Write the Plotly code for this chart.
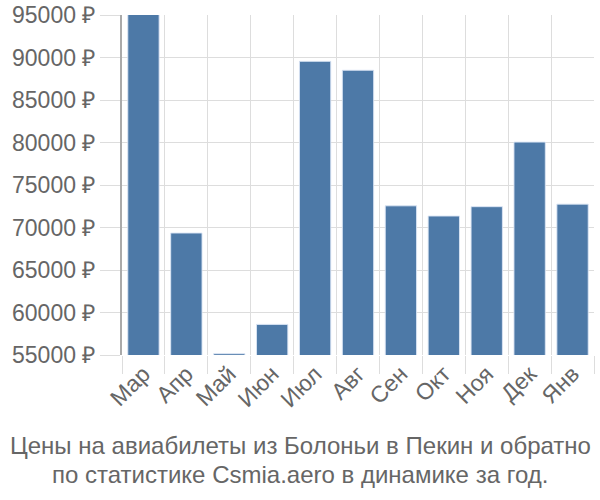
import plotly.graph_objects as go

months = ["Мар", "Апр", "Май", "Июн", "Июл", "Авг", "Сен", "Окт", "Ноя", "Дек", "Янв"]
prices = [97000, 69350, 55150, 58600, 89550, 88500, 72550, 71350, 72450, 80050, 72750]
y_ticks = [55000, 60000, 65000, 70000, 75000, 80000, 85000, 90000, 95000]
y_labels = [f"{v} ₽" for v in y_ticks]
title_lines = ["Цены на авиабилеты из Болоньи в Пекин и обратно",
               "по статистике Csmia.aero в динамике за год."]

fig = go.Figure(go.Bar(
    x=months, y=prices,
    marker=dict(color="#4d79a7", line=dict(color="rgba(220,230,245,0.9)", width=1)),
))

font = "Liberation Sans, Arial, sans-serif"
L, R, T, B = 122, 6, 15, 145
pw, ph = 600 - L - R, 500 - T - B
fig.update_layout(
    width=600, height=500,
    margin=dict(l=L, r=R, t=T, b=B, autoexpand=False),
    plot_bgcolor="white", paper_bgcolor="white",
    bargap=0.27,
    showlegend=False,
    font=dict(family=font, color="#666666", size=23),
)
for i, (line, ybase) in enumerate(zip(title_lines, [456, 485])):
    fig.add_annotation(
        text=line, x=(300 - L) / pw, y=(500 - B - ybase) / ph,
        xref="paper", yref="paper", xanchor="center", yanchor="bottom",
        yshift=-5, showarrow=False,
        font=dict(family=font, size=24, color="#666666"),
    )
fig.update_xaxes(
    automargin=False,
    tickson="boundaries", showgrid=True, gridcolor="#dddddd", gridwidth=1,
    ticks="outside", ticklen=18, tickcolor="#dddddd",
    tickangle=-45, tickfont=dict(size=23, color="#666666"),
    showline=False,
)
fig.update_yaxes(
    automargin=False,
    range=[55000, 95000], tickvals=y_ticks, ticktext=y_labels,
    showgrid=True, gridcolor="#dddddd", gridwidth=1,
    ticks="outside", ticklen=20, tickcolor="#dddddd",
    showline=True, linecolor="#aaaaaa", linewidth=2,
    tickfont=dict(size=23, color="#666666"), zeroline=False,
)
fig.write_html("out.html")
